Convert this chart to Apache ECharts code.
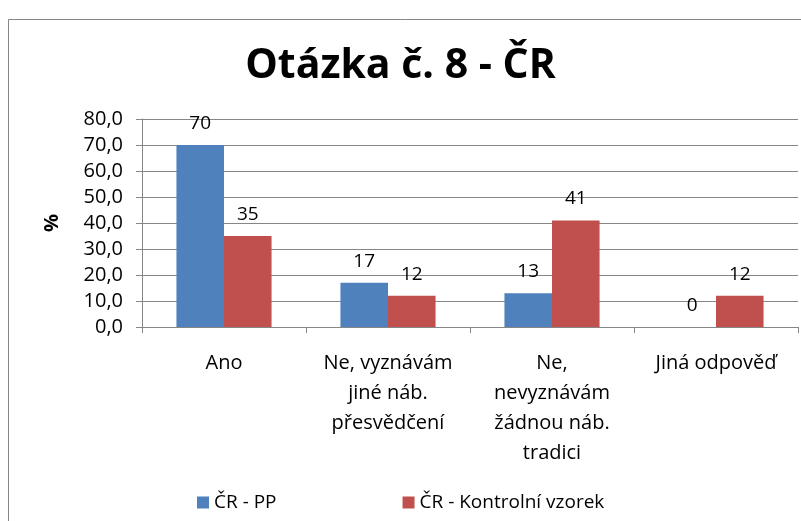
<!DOCTYPE html>
<html>
<head>
<meta charset="utf-8">
<script src="https://cdn.jsdelivr.net/npm/echarts@6/dist/echarts.min.js"></script>
<style>
  html, body { margin: 0; padding: 0; background: #fff; }
  #chart { width: 801px; height: 521px; }
</style>
</head>
<body>
<div id="chart"></div>
<script>
// data
const categories = [
  'Ano',
  'Ne, vyznávám\njiné náb.\npřesvědčení',
  'Ne,\nnevyznávám\nžádnou náb.\ntradici',
  'Jiná odpověď'
]
const seriesNames = ['ČR - PP', 'ČR - Kontrolní vzorek']
const ppValues = [70, 17, 13, 0]
const controlValues = [35, 12, 41, 12]
const yTicks = { min: 0, max: 80, interval: 10 }

const font = '"Open Sans", Lato, sans-serif'
const gray = '#868686'

const chart = echarts.init(document.getElementById('chart'))

const barLabel = {
  show: true,
  position: 'top',
  distance: 12,
  color: '#000',
  fontFamily: font,
  fontSize: 19
}

chart.setOption({
  animation: false,
  textStyle: { fontFamily: font },
  title: {
    text: 'Otázka č. 8 - ČR',
    left: 'center',
    top: 41,
    textStyle: { fontFamily: font, fontSize: 41, fontWeight: 'bold', color: '#000' }
  },
  graphic: [{
    type: 'rect',
    shape: { x: 8.5, y: 19.5, width: 900, height: 700 },
    style: { fill: 'none', stroke: gray, lineWidth: 1 },
    silent: true
  }],
  legend: {
    bottom: 4,
    left: 192,
    itemWidth: 12,
    itemHeight: 12,
    itemGap: 126,
    icon: 'rect',
    textStyle: { fontFamily: font, fontSize: 19, color: '#000' },
    data: seriesNames
  },
  grid: {
    left: 142,
    right: 3,
    top: 119,
    bottom: 194
  },
  xAxis: {
    type: 'category',
    data: categories,
    axisLine: { lineStyle: { color: gray } },
    axisTick: { show: true, length: 6, lineStyle: { color: gray } },
    axisLabel: {
      color: '#000',
      fontSize: 20,
      fontFamily: font,
      lineHeight: 30,
      margin: 21,
      interval: 0
    }
  },
  yAxis: {
    type: 'value',
    min: yTicks.min,
    max: yTicks.max,
    interval: yTicks.interval,
    name: '%',
    nameLocation: 'middle',
    nameGap: 80,
    nameRotate: 90,
    nameTextStyle: { fontFamily: font, fontSize: 20, fontWeight: 'bold', color: '#000' },
    axisLine: { show: true, lineStyle: { color: gray } },
    axisTick: { show: true, length: 6, lineStyle: { color: gray } },
    splitLine: { lineStyle: { color: gray } },
    axisLabel: {
      color: '#000',
      fontSize: 20,
      fontFamily: font,
      margin: 19,
      formatter: v => v.toFixed(1).replace('.', ',')
    }
  },
  series: [{
    name: seriesNames[0],
    type: 'bar',
    data: ppValues,
    color: '#4F81BD',
    barGap: '0%',
    barCategoryGap: '42%',
    label: barLabel
  }, {
    name: seriesNames[1],
    type: 'bar',
    data: controlValues,
    color: '#C0504D',
    barGap: '0%',
    barCategoryGap: '42%',
    label: barLabel
  }]
})
</script>
</body>
</html>
